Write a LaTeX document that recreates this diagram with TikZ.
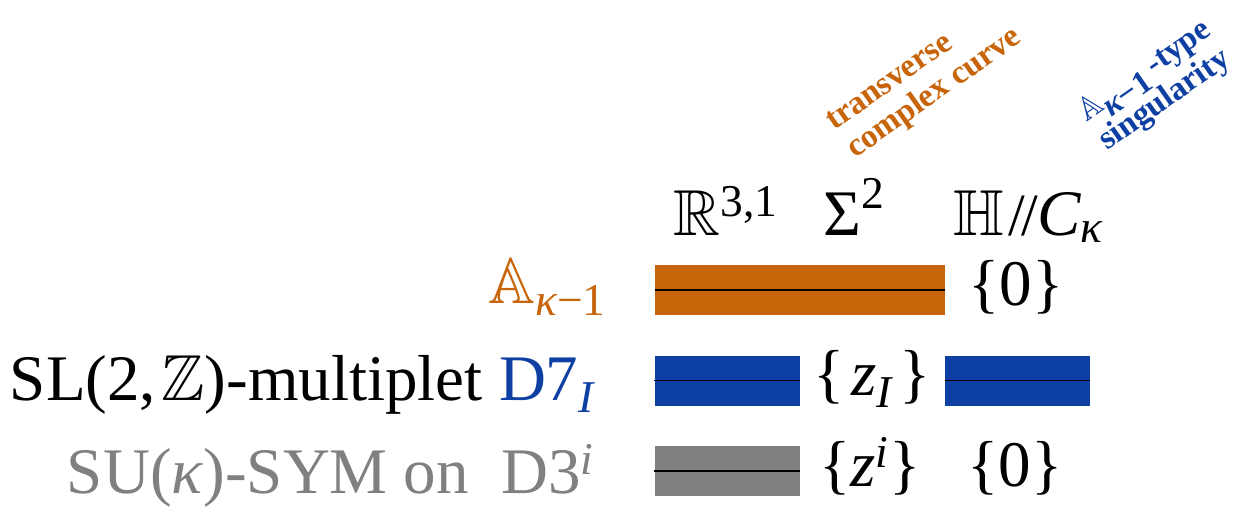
\documentclass[tikz,border=0pt]{standalone}
\usepackage{amsmath,amssymb}
\usepackage[no-math]{fontspec}
\setmainfont{Liberation Serif}
\newfontfamily\tms{Liberation Serif}
\definecolor{orangeC}{HTML}{C8640A}
\definecolor{blueC}{HTML}{0E40A4}
\definecolor{grayC}{HTML}{808080}
\newcommand{\kk}{\text{\tms\itshape κ}}
\newcommand{\kmo}{\text{\tms\itshape κ\upshape −1}}
\newcommand{\tx}[1]{\text{\tms\upshape #1}}
\newcommand{\ti}[1]{\text{\tms\itshape #1}}
\newcommand{\dslash}{\text{\tms\fontsize{30}{30}\selectfont\kern0.08em/\kern-0.06em/\kern-0.02em}}
\tikzset{
  big/.style={font=\tms\fontsize{32.5}{40}\selectfont, inner sep=0pt},
  rottext/.style={font=\tms\fontsize{16.5}{19}\selectfont\bfseries, inner sep=0pt, rotate=35, anchor=base west},
  barbox/.style={fill=#1, draw=none, minimum height=25pt, inner sep=0pt},
  midline/.style={line width=0.85pt, black},
}
\begin{document}
\begin{tikzpicture}[x=0.5pt,y=-0.5pt]
\useasboundingbox (0,0) rectangle (1236,516);
% rotated annotations
\node[rottext, text=orangeC] (t1) at (834,131) {transverse};
\node[rottext, text=orangeC] (t2) at (855,159) {complex curve};
\node[rottext, text=blueC] (s1) at (1086,123) {$\mathbb{A}_{\textstyle\kmo}$\,-type};
\node[rottext, text=blueC] (s2) at (1107,151) {singularity};
% headers
\node[big, anchor=base west] (hR) at (673,235) {$\mathbb{R}^{\tx{3,1}}$};
\node[big, anchor=base west] (hS) at (823,235) {$\tx{Σ}^{\tx{2}}$};
\node[big, anchor=base west] (hH) at (953,235) {$\mathbb{H}\dslash\ti{C}_{\kk}$};
% row labels
\node[big, anchor=base east, text=orangeC] (l1) at (607,303) {$\mathbb{A}_{\kmo}$};
\node[big, anchor=base east] (l2) at (595,400) {SL(2,\kern0.08em$\mathbb{Z}$)-multiplet \textcolor{blueC}{D7$_{\ti{I}}$}};
\node[big, anchor=base east, text=grayC] (l3) at (595,493) {SU(\textit{κ})-SYM on\hspace{0.5em}D3$^{\ti{i}}$};
% bars
\node[barbox=orangeC, minimum width=145pt] (b1) at (800,290) {};
\draw[midline] (b1.west) -- (b1.east);
\node[barbox=blueC, minimum width=72.5pt] (b2) at (727,380.5) {};
\draw[midline] (b2.west) -- (b2.east);
\node[barbox=blueC, minimum width=72.5pt] (b3) at (1017.5,380.5) {};
\draw[midline] (b3.west) -- (b3.east);
\node[barbox=grayC, minimum width=72.5pt] (b4) at (727,471) {};
\draw[midline] (b4.west) -- (b4.east);
% point sets
\node[big, anchor=base] (p1) at (1016,305) {\{0\}};
\node[big, anchor=base] (p2) at (872,395) {\{\kern0.1em$\ti{z}_{\ti{I}}$\kern0.1em\}};
\node[big, anchor=base] (p3) at (870,486) {\{$\ti{z}^{\ti{i}}$\}};
\node[big, anchor=base] (p4) at (1015,486) {\{0\}};
\end{tikzpicture}
\end{document}
